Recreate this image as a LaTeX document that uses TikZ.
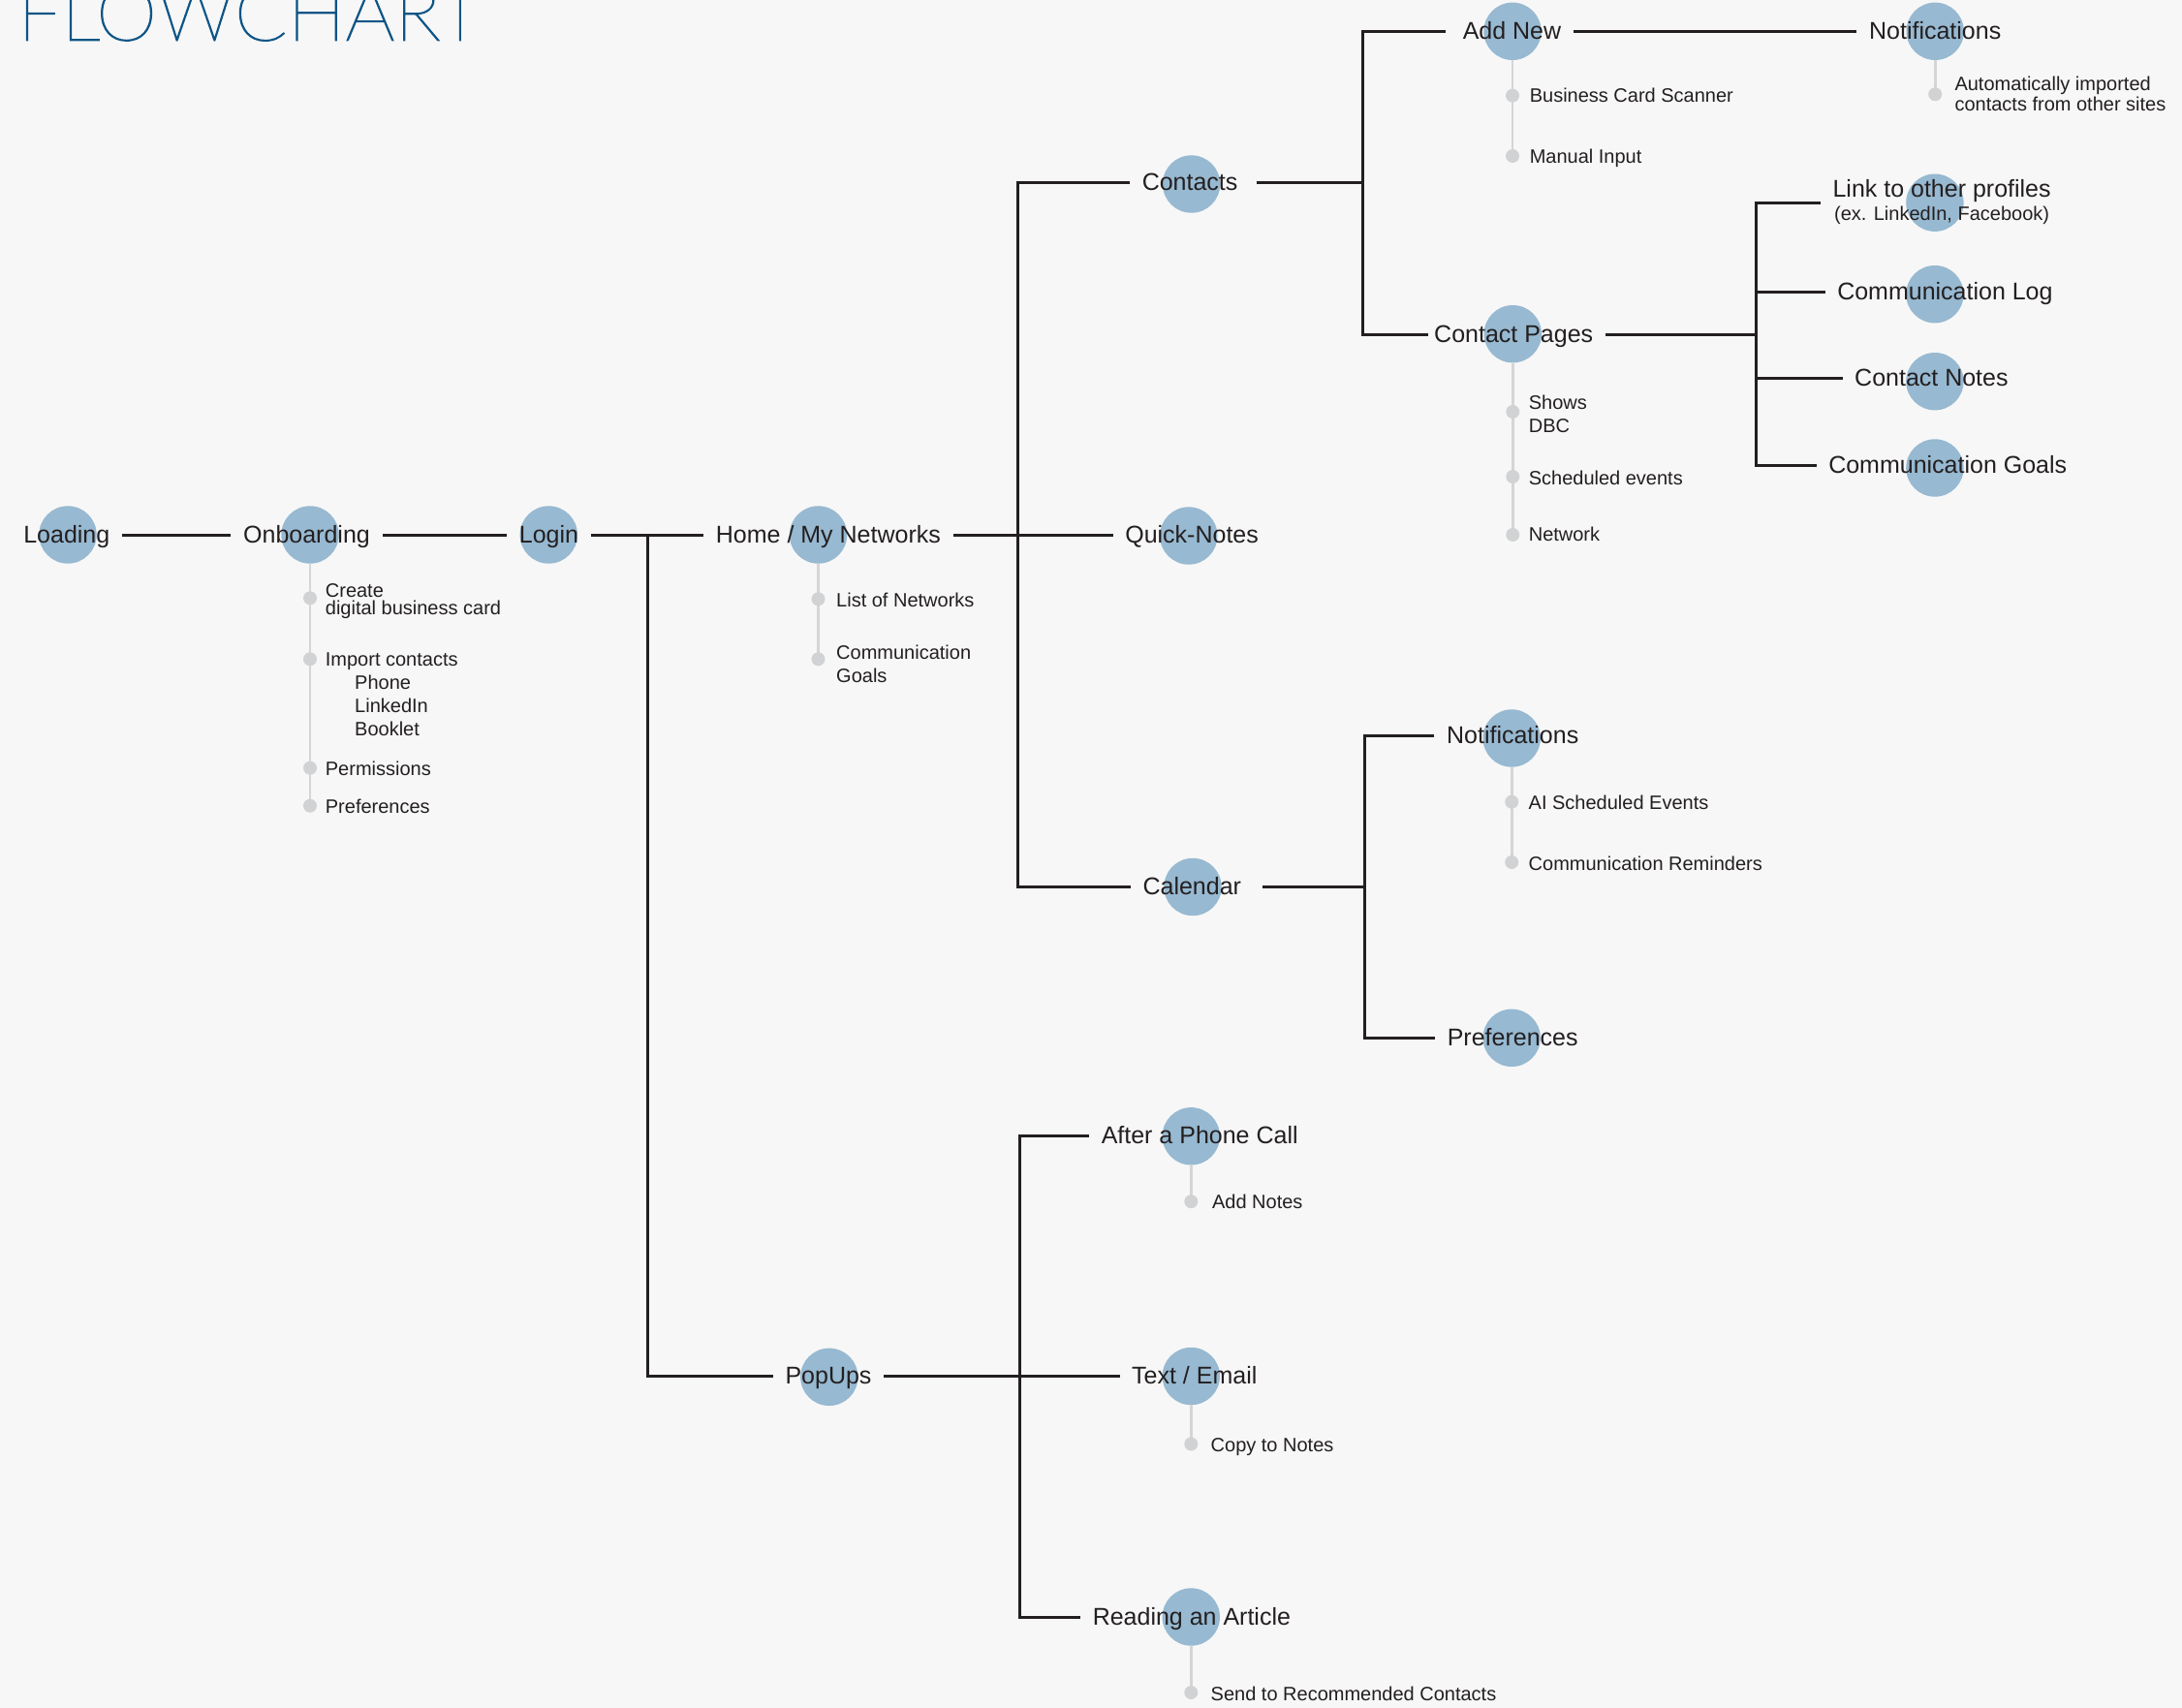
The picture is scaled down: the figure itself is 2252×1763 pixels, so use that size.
\documentclass[tikz,border=0pt]{standalone}
\usepackage{fontspec}
\setmainfont{Liberation Sans}
\IfFontExistsTF{Lato Thin}{\newfontfamily\titlefont{Lato Thin}[FakeBold=1.6,FakeStretch=1.0]}{%
  \IfFontExistsTF{Lato Light}{\newfontfamily\titlefont{Lato Light}[FakeStretch=1.0]}{%
    \IfFontExistsTF{Fira Sans Light}{\newfontfamily\titlefont{Fira Sans Light}}{%
      \newfontfamily\titlefont{Liberation Sans}}}}
\usetikzlibrary{calc}
\definecolor{bgcol}{HTML}{F7F7F7}
\definecolor{bubblecol}{HTML}{97B9D1}
\definecolor{inkcol}{HTML}{231F20}
\definecolor{titlecol}{HTML}{0E5586}
\definecolor{railcol}{HTML}{D5D5D5}
\definecolor{dotcol}{HTML}{D1D2D4}
\newcommand\mainsize{\fontsize{25}{30}\selectfont}
\newcommand\subsize{\fontsize{20}{23.5}\selectfont}
\begin{document}
\begin{tikzpicture}[x=1pt,y=-1pt,
  bubble/.style={circle,fill=bubblecol,minimum size=59.4pt,inner sep=0pt},
  mainlabel/.style={font=\mainsize,text=inkcol,text height=16.5pt,text depth=0pt,inner ysep=0pt,inner xsep=12.5pt},
  conn/.style={draw=inkcol,line width=3pt},
  railline/.style={draw=railcol,line width=2.6pt},
  subdot/.style={circle,fill=dotcol,minimum size=14pt,inner sep=0pt},
  subtext/.style={font=\subsize,text=inkcol,anchor=base west,inner sep=0pt},
]
\fill[bgcol] (0,0) rectangle (2252,1763);
\useasboundingbox (0,0) rectangle (2252,1763);

% title
\node[font=\titlefont\fontsize{80}{90}\selectfont,text=titlecol,anchor=base west,inner sep=0pt] (title) at (18,41.7) {FLOWCHART};

% bubbles
\node[bubble] (c-load) at (70,552) {};
\node[bubble] (c-onb) at (320,552) {};
\node[bubble] (c-login) at (566.3,552) {};
\node[bubble] (c-home) at (844.5,552) {};
\node[bubble] (c-qn) at (1226.8,553) {};
\node[bubble] (c-contacts) at (1229.6,190) {};
\node[bubble] (c-cal) at (1231,915.5) {};
\node[bubble] (c-pop) at (855.8,1421.3) {};
\node[bubble] (c-add) at (1561,32.3) {};
\node[bubble] (c-notif1) at (1997.2,32.3) {};
\node[bubble] (c-cpages) at (1561.3,344.7) {};
\node[bubble] (c-link) at (1996.9,209.2) {};
\node[bubble] (c-log) at (1996.9,303.7) {};
\node[bubble] (c-notes) at (1996.9,393.7) {};
\node[bubble] (c-goals) at (1996.9,483) {};
\node[bubble] (c-notif2) at (1560.2,762) {};
\node[bubble] (c-prefs) at (1560.2,1071.3) {};
\node[bubble] (c-after) at (1229.3,1172.8) {};
\node[bubble] (c-text) at (1229.3,1420.5) {};
\node[bubble] (c-read) at (1229.3,1669) {};

% sub-item dots
\coordinate (d-onb1) at (320,617.3);
\coordinate (d-onb2) at (320,680.3);
\coordinate (d-onb3) at (320,792.7);
\coordinate (d-onb4) at (320,831.7);
\coordinate (d-home1) at (844.5,618.3);
\coordinate (d-home2) at (844.5,680.3);
\coordinate (d-add1) at (1561,98.7);
\coordinate (d-add2) at (1561,161);
\coordinate (d-notif1) at (1997.2,97.3);
\coordinate (d-cp1) at (1561.3,425);
\coordinate (d-cp2) at (1561.3,492);
\coordinate (d-cp3) at (1561.3,552);
\coordinate (d-n2a) at (1560.2,827.7);
\coordinate (d-n2b) at (1560.2,890);
\coordinate (d-after) at (1229.3,1240.2);
\coordinate (d-text) at (1229.3,1490.5);
\coordinate (d-read) at (1229.3,1747);

% rails
\draw[railline] (c-onb.south) -- (d-onb4);
\draw[railline] (c-home.south) -- (d-home2);
\draw[railline] (c-add.south) -- (d-add2);
\draw[railline] (c-notif1.south) -- (d-notif1);
\draw[railline] (c-cpages.south) -- (d-cp3);
\draw[railline] (c-notif2.south) -- (d-n2b);
\draw[railline] (c-after.south) -- (d-after);
\draw[railline] (c-text.south) -- (d-text);
\draw[railline] (c-read.south) -- (d-read);

\foreach \d in {onb1,onb2,onb3,onb4,home1,home2,add1,add2,notif1,cp1,cp2,cp3,n2a,n2b,after,text,read}
  \node[subdot] (dot-\d) at (d-\d) {};

% main labels
\node[mainlabel] (t-load) at (68.8,552.5) {Loading};
\node[mainlabel] (t-onb) at (316.5,552.5) {Onboarding};
\node[mainlabel] (t-login) at (566.5,552.5) {Login};
\node[mainlabel] (t-home) at (854.9,552.5) {Home / My Networks};
\node[mainlabel] (t-qn) at (1230.1,552.5) {Quick-Notes};
\node[mainlabel] (t-contacts) at (1228.1,188.5) {Contacts};
\node[mainlabel] (t-cal) at (1230.3,915) {Calendar};
\node[mainlabel] (t-pop) at (855,1420.5) {PopUps};
\node[mainlabel] (t-add) at (1560.5,32.3) {Add New};
\node[mainlabel] (t-notif1) at (1997.2,32.3) {Notifications};
\node[mainlabel] (t-cpages) at (1562.2,345) {Contact Pages};
\node[font=\mainsize,text=inkcol,inner xsep=12.5pt,inner ysep=0pt,anchor=base] (t-link) at (2004.1,203.3)
  {\renewcommand{\arraystretch}{0.8}\begin{tabular}[t]{@{}c@{}}Link to other profiles\\ \subsize (ex. LinkedIn, Facebook)\end{tabular}};
\node[mainlabel] (t-log) at (2007.4,301) {Communication Log};
\node[mainlabel] (t-notes) at (1993.4,390.5) {Contact Notes};
\node[mainlabel] (t-goals) at (2010.2,480.5) {Communication Goals};
\node[mainlabel] (t-notif2) at (1561.2,759.5) {Notifications};
\node[mainlabel] (t-prefs) at (1561.2,1071) {Preferences};
\node[mainlabel] (t-after) at (1238.2,1172.5) {After a Phone Call};
\node[mainlabel] (t-text) at (1232.8,1420.5) {Text / Email};
\node[mainlabel] (t-read) at (1229.9,1669.5) {Reading an Article};

% sub texts
\node[subtext] (s-onb1) at (335.7,616) {\vtop{\baselineskip=18.3pt\hbox{Create}\hbox{digital business card}}};
\node[subtext] (s-onb2) at (335.7,687.3) {\vtop{\baselineskip=24pt\hbox{Import contacts}\hbox{\hspace*{30.3pt}Phone}\hbox{\hspace*{30.3pt}LinkedIn}\hbox{\hspace*{30.3pt}Booklet}}};
\node[subtext] (s-onb3) at (335.7,800) {Permissions};
\node[subtext] (s-onb4) at (335.7,839) {Preferences};
\node[subtext] (s-home1) at (863,626) {List of Networks};
\node[subtext] (s-home2) at (863,680.7) {\vtop{\baselineskip=23.3pt\hbox{Communication}\hbox{Goals}}};
\node[subtext] (s-add1) at (1578.6,106) {Business Card Scanner};
\node[subtext] (s-add2) at (1578.6,168.3) {Manual Input};
\node[subtext] (s-notif1) at (2017.3,93.3) {\vtop{\baselineskip=21.7pt\hbox{Automatically imported}\hbox{contacts from other sites}}};
\node[subtext] (s-cp1) at (1577.6,422.3) {\vtop{\baselineskip=23.7pt\hbox{Shows}\hbox{DBC}}};
\node[subtext] (s-cp2) at (1577.6,500) {Scheduled events};
\node[subtext] (s-cp3) at (1577.6,558.3) {Network};
\node[subtext] (s-n2a) at (1577.5,835) {AI Scheduled Events};
\node[subtext] (s-n2b) at (1577.5,898.3) {Communication Reminders};
\node[subtext] (s-after) at (1250.9,1247.9) {Add Notes};
\node[subtext] (s-text) at (1249.5,1498.2) {Copy to Notes};
\node[subtext] (s-read) at (1249.5,1755) {Send to Recommended Contacts};

% branch points
\coordinate (b-login) at (668.3,552.5);
\coordinate (b-home) at (1050,552.5);
\coordinate (b-contacts) at (1406,188.5);
\coordinate (b-cpages) at (1812.3,345);
\coordinate (b-cal) at (1408.7,915);
\coordinate (b-pop) at (1052.5,1420.5);

% connectors
\draw[conn] (t-load.east) -- (t-onb.west);
\draw[conn] (t-onb.east) -- (t-login.west);
\draw[conn] (t-login.east) -- (t-home.west);
\draw[conn] (b-login) |- (t-pop.west);
\draw[conn] (t-home.east) -- (t-qn.west);
\draw[conn] (t-contacts.west) -| (b-home) |- (t-cal.west);
\draw[conn,shorten <=7pt] (t-contacts.east) -- (b-contacts);
\draw[conn,shorten <=5pt,shorten >=-6pt] (t-add.west) -| (b-contacts) |- (t-cpages.west);
\draw[conn] (t-add.east) -- (t-notif1.west);
\draw[conn] (t-cpages.east) -- (b-cpages);
\draw[conn] (t-link.west) -| (b-cpages) |- (t-goals.west);
\draw[conn] (t-log.west) -- (t-log.west -| b-cpages);
\draw[conn] (t-notes.west) -- (t-notes.west -| b-cpages);
\draw[conn,shorten <=9pt] (t-cal.east) -- (b-cal);
\draw[conn] (t-notif2.west) -| (b-cal) |- (t-prefs.west);
\draw[conn] (t-pop.east) -- (t-text.west);
\draw[conn] (t-after.west) -| (b-pop) |- (t-read.west);
\end{tikzpicture}
\end{document}
